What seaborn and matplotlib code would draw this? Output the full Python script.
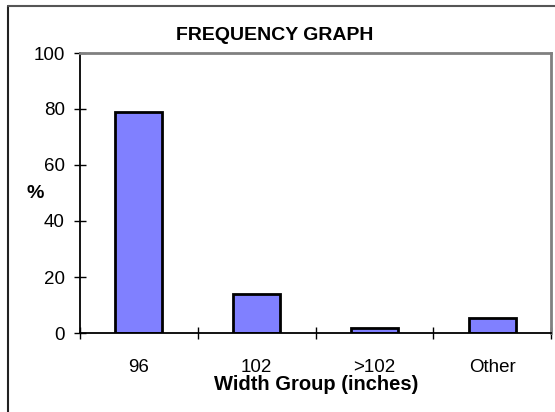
import matplotlib
matplotlib.use("Agg")
import matplotlib.pyplot as plt
import seaborn as sns
import pandas as pd
from matplotlib.lines import Line2D

categories = ["96", "102", ">102", "Other"]
values = [78.9, 13.9, 1.8, 5.4]
yticks = [0, 20, 40, 60, 80, 100]

sns.set_theme(style="white")
plt.rcParams['font.family'] = ['Liberation Sans', 'DejaVu Sans']
plt.rcParams['text.color'] = 'black'

df = pd.DataFrame({"cat": categories, "val": values})

fig = plt.figure(figsize=(5.55, 4.12), dpi=100)
ax = fig.add_axes([80/555, 1-333/412, 471/555, 280/412])
sns.barplot(data=df, x="cat", y="val", ax=ax, color="#8080FF", saturation=1,
            width=0.4, edgecolor="black", linewidth=2)

ax.set_ylim(0, 100)
ax.set_xlim(-0.5, 3.5)
ax.set_yticks(yticks)
ax.set_yticklabels([str(v) for v in yticks], fontsize=13.5, color="black")
ax.tick_params(axis="y", direction="inout", length=8, width=1, color="black", pad=7, left=True)

ax.set_xticks([-0.5, 0.5, 1.5, 2.5, 3.5])
ax.set_xticklabels([])
ax.set_xticks(range(len(categories)), minor=True)
ax.set_xticklabels(categories, minor=True, fontsize=13.5, color="black")
ax.tick_params(axis="x", which="major", direction="inout", length=8, width=1, color="black", bottom=True)
ax.tick_params(axis="x", which="minor", length=0, pad=19)

ax.set_xlabel("")
ax.set_ylabel("")
for s in ["left", "bottom"]:
    ax.spines[s].set_color("black")
    ax.spines[s].set_linewidth(1.3)
for s in ["top", "right"]:
    ax.spines[s].set_visible(True)
    ax.spines[s].set_color("#808080")
    ax.spines[s].set_linewidth(2)

fig.text(275/555, 1-36/412, "FREQUENCY GRAPH", ha="center", va="center",
         fontsize=14, fontweight="bold", color="black")
fig.text(316/555, 1-384/412, "Width Group (inches)", ha="center", va="center",
         fontsize=14.5, fontweight="bold", color="black")
fig.text(35/555, 1-193/412, "%", ha="center", va="center",
         fontsize=14, fontweight="bold", color="black")

# figure border (left and top)
fig.add_artist(Line2D([8/555, 8/555], [0, 1-6/412], color="#222222", lw=1.5,
                      transform=fig.transFigure))
fig.add_artist(Line2D([8/555, 1], [1-6/412, 1-6/412], color="#555555", lw=1.5,
                      transform=fig.transFigure))

fig.savefig("out.png", dpi=100)
